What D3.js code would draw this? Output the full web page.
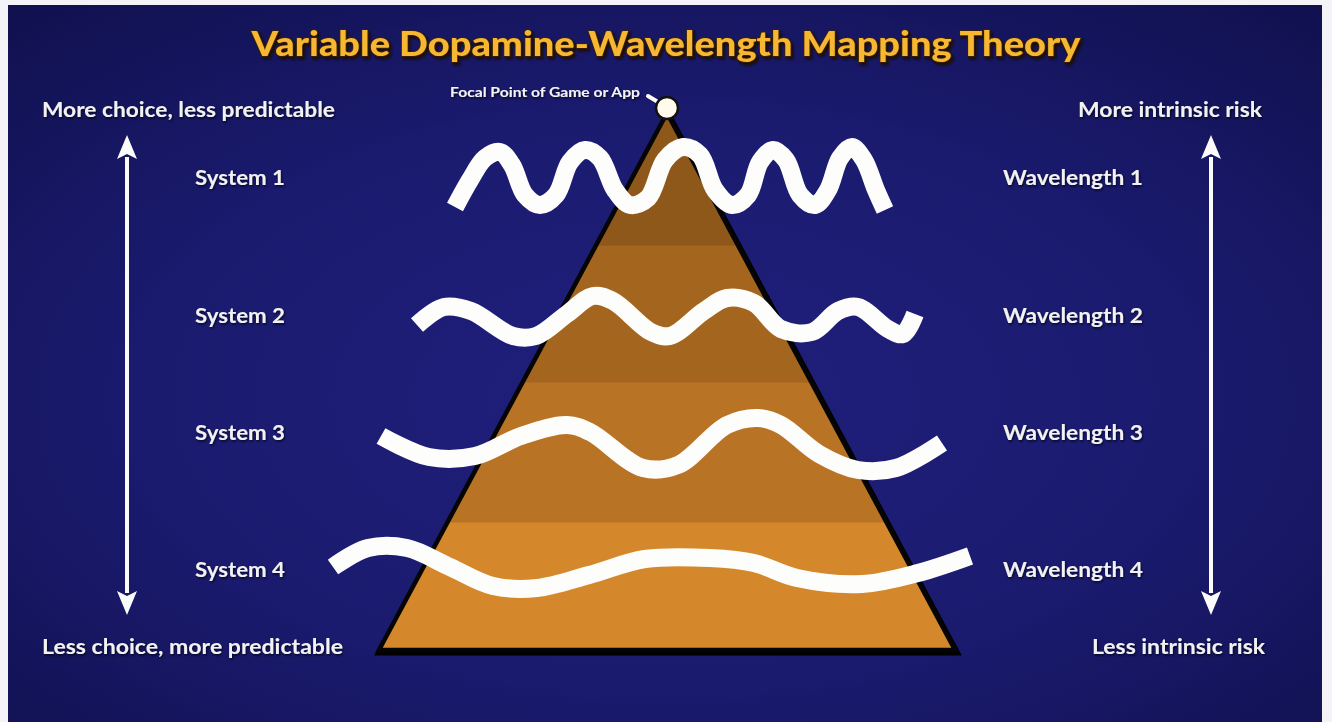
<!DOCTYPE html>
<html>
<head>
<meta charset="utf-8">
<script src="https://cdn.jsdelivr.net/npm/d3@7"></script>
<style>
  html, body { margin: 0; padding: 0; background: #ffffff; overflow: hidden; }
  svg { display: block; }
</style>
</head>
<body>
<svg id="chart" width="1332" height="722"></svg>
<script>
// ---- Diagram content -------------------------------------------------------
const titleText = "Variable Dopamine-Wavelength Mapping Theory";
const focalLabel = "Focal Point of Game or App";
const leftAxisLabels = ["More choice, less predictable", "Less choice, more predictable"];
const rightAxisLabels = ["More intrinsic risk", "Less intrinsic risk"];
const systems = ["System 1", "System 2", "System 3", "System 4"];
const wavelengths = ["Wavelength 1", "Wavelength 2", "Wavelength 3", "Wavelength 4"];

// Height of each system row on the pyramid's vertical axis (0 = base)
const rowLevels = [472, 334, 217, 80];

// Pyramid: outline (horizontal offset from centre, height) and band breaks
const pyramidOutline = [[-288, 0], [0, 537], [288, 0]];
const bandBreaks = [0, 128, 268, 405, 537];
const focalPoint = [0, 542];
const axisExtent = [35, 515];

// Wave traces: [horizontal offset from centre, height]
const wave1 = [[-212,443],[-197,470],[-182,492],[-167,498],[-155,485],[-142,455],[-127,445],
  [-111,455],[-97,488],[-82,500],[-67,492],[-52,460],[-37,445],[-19,452],[-2,490],[16,503],
  [33,495],[48,460],[65,445],[81,455],[93,488],[106,500],[119,490],[133,455],[148,445],
  [161,460],[173,492],[185,503],[197,490],[209,460],[218,440]];
const wave2 = [[-250,325],[-223,343],[-196,339],[-154,314],[-131,314],[-100,336],[-74,354],
  [-54,349],[-16,318],[3,314],[37,339],[60,352],[87,347],[114,321],[145,318],[171,339],
  [191,343],[221,321],[236,316],[248,336]];
const wave3 = [[-286,214],[-238,193],[-192,194],[-146,214],[-100,225],[-77,218],[-24,182],
  [11,185],[60,225],[91,232],[114,225],[152,196],[191,180],[229,182],[275,207]];
const wave4 = [[-334,83],[-299,102],[-260,102],[-217,83],[-174,64],[-130,62],[-78,75],
  [-22,91],[43,92],[87,87],[130,72],[195,66],[251,77],[303,94]];

// ---- Scales ------------------------------------------------------------------
const W = 1332, H = 722;
const x = d3.scaleLinear().domain([-667, 665]).range([0, W]);
const y = d3.scaleLinear().domain([0, 540]).range([650, 110]);

const svg = d3.select("#chart");
const defs = svg.append("defs");

const bg = defs.append("radialGradient").attr("id", "bg")
  .attr("cx", "50%").attr("cy", "55%").attr("r", "75%");
bg.append("stop").attr("offset", "0%").attr("stop-color", "#20207e");
bg.append("stop").attr("offset", "55%").attr("stop-color", "#1a1a6e");
bg.append("stop").attr("offset", "100%").attr("stop-color", "#10104e");

const shadow = defs.append("filter").attr("id", "txtShadow")
  .attr("x", "-10%").attr("y", "-30%").attr("width", "120%").attr("height", "160%");
shadow.append("feDropShadow").attr("dx", 1).attr("dy", 1.5).attr("stdDeviation", 1)
  .attr("flood-color", "#000018").attr("flood-opacity", 0.8);

const titleShadow = defs.append("filter").attr("id", "titleShadow")
  .attr("x", "-5%").attr("y", "-30%").attr("width", "110%").attr("height", "170%");
titleShadow.append("feDropShadow").attr("dx", 2).attr("dy", 2.5).attr("stdDeviation", 0.8)
  .attr("flood-color", "#1e1000").attr("flood-opacity", 1);

// ---- Background --------------------------------------------------------------
svg.append("rect").attr("width", W).attr("height", H).attr("fill", "#f4f4f8");
svg.append("rect").attr("x", 8).attr("y", 5).attr("width", W - 18).attr("height", H - 5)
  .attr("fill", "url(#bg)");

// ---- Title -------------------------------------------------------------------
svg.append("text")
  .attr("x", W / 2).attr("y", 56)
  .attr("text-anchor", "middle")
  .attr("font-family", "Lato, 'DejaVu Sans', sans-serif")
  .attr("font-weight", 900)
  .attr("font-size", 34)
  .attr("fill", "#f7b733")
  .attr("stroke", "#3a2200").attr("stroke-width", 1.6)
  .attr("paint-order", "stroke")
  .attr("textLength", 829).attr("lengthAdjust", "spacingAndGlyphs")
  .attr("filter", "url(#titleShadow)")
  .text(titleText);

// ---- Pyramid -----------------------------------------------------------------
const outlineLine = d3.line().x(d => x(d[0])).y(d => y(d[1]));
defs.append("clipPath").attr("id", "pyrClip")
  .append("path").attr("d", outlineLine(pyramidOutline) + "Z");

const bandColors = ["#d5882b", "#b87325", "#a4651f", "#8f581b"];
const pyr = svg.append("g");
pyr.append("path").attr("d", outlineLine(pyramidOutline) + "Z")
  .attr("fill", "none").attr("stroke", "#000").attr("stroke-width", 7)
  .attr("stroke-linejoin", "miter").attr("transform", "translate(1,2)");
pyr.append("g").attr("clip-path", "url(#pyrClip)")
  .selectAll("rect").data(d3.range(bandBreaks.length - 1)).join("rect")
  .attr("x", x(-300)).attr("width", x(300) - x(-300))
  .attr("y", i => y(bandBreaks[i + 1]))
  .attr("height", i => y(bandBreaks[i]) - y(bandBreaks[i + 1]) + 0.5)
  .attr("fill", i => bandColors[i]);
pyr.append("path").attr("d", outlineLine(pyramidOutline) + "Z")
  .attr("fill", "none").attr("stroke", "#050505").attr("stroke-width", 4.5)
  .attr("stroke-linejoin", "miter");

// ---- Waves -------------------------------------------------------------------
const waves = [wave1, wave2, wave3, wave4];
const waveLine = d3.line().x(p => x(p[0])).y(p => y(p[1])).curve(d3.curveCatmullRom.alpha(0.5));
svg.append("g").selectAll("path").data(waves).join("path")
  .attr("d", d => waveLine(d))
  .attr("fill", "none")
  .attr("stroke", "#fdfdfb")
  .attr("stroke-width", 18)
  .attr("stroke-linecap", "butt")
  .attr("stroke-linejoin", "round");

// ---- Focal point -------------------------------------------------------------
const fx = x(focalPoint[0]), fy = y(focalPoint[1]);
svg.append("line")
  .attr("x1", fx - 19).attr("y1", fy - 12).attr("x2", fx - 4).attr("y2", fy - 3)
  .attr("stroke", "#fffdf0").attr("stroke-width", 4).attr("stroke-linecap", "round");
svg.append("circle").attr("cx", fx).attr("cy", fy).attr("r", 11)
  .attr("fill", "#fffbea").attr("stroke", "#111").attr("stroke-width", 2.5);
svg.append("text")
  .attr("x", fx - 217).attr("y", fy - 11)
  .attr("font-family", "Lato, 'Open Sans', sans-serif")
  .attr("font-weight", 700).attr("font-size", 13)
  .attr("fill", "#f4f4f4")
  .attr("textLength", 190).attr("lengthAdjust", "spacingAndGlyphs")
  .attr("filter", "url(#txtShadow)")
  .text(focalLabel);

// ---- Side arrows -------------------------------------------------------------
function drawArrow(cx) {
  const top = y(axisExtent[1]), bot = y(axisExtent[0]);
  const head = 24, half = 10;
  const g = svg.append("g").attr("fill", "#fbfbfb");
  g.append("rect").attr("x", cx - 2).attr("y", top + head - 2)
    .attr("width", 4).attr("height", bot - top - 2 * head + 4);
  g.append("path").attr("d",
    `M${cx},${top} L${cx + half},${top + head} L${cx},${top + head - 5} L${cx - half},${top + head} Z`);
  g.append("path").attr("d",
    `M${cx},${bot} L${cx + half},${bot - head} L${cx},${bot - head + 5} L${cx - half},${bot - head} Z`);
}
drawArrow(x(-540));
drawArrow(x(544));

// ---- Labels ------------------------------------------------------------------
const labelFont = "Lato, 'Open Sans', sans-serif";
function label(txt, px, py, len, anchor) {
  svg.append("text")
    .attr("x", px).attr("y", py)
    .attr("text-anchor", anchor || "start")
    .attr("font-family", labelFont)
    .attr("font-weight", 700)
    .attr("font-size", 20)
    .attr("fill", "#f2f2f2")
    .attr("textLength", len).attr("lengthAdjust", "spacingAndGlyphs")
    .attr("filter", "url(#txtShadow)")
    .text(txt);
}
label(leftAxisLabels[0], 42, 117, 293);
label(leftAxisLabels[1], 42, 654, 301);
label(rightAxisLabels[0], 1078, 117, 184);
label(rightAxisLabels[1], 1092, 654, 173);

systems.forEach((s, i) => label(s, 195, y(rowLevels[i]) + 7, 90));
wavelengths.forEach((s, i) => label(s, 1003, y(rowLevels[i]) + 7, 140));
</script>
</body>
</html>
